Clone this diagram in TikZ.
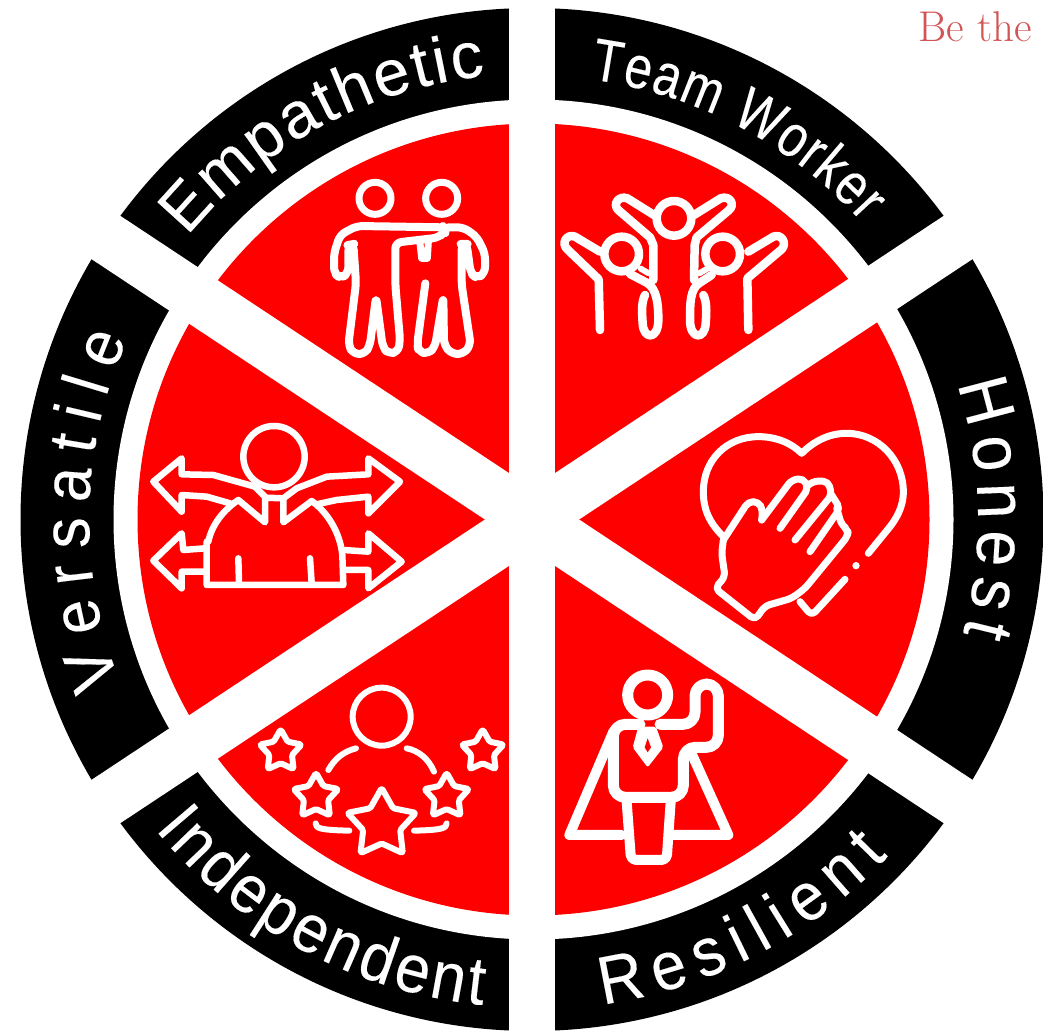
\documentclass[tikz,border=0pt]{standalone}
\usepackage{fontspec}
\setmainfont{Liberation Sans}
\newfontfamily\beserif{Latin Modern Roman}
\newfontfamily\ringfull[FakeBold=0.2]{Liberation Sans}
\newfontfamily\ringmid[FakeStretch=0.92,FakeBold=0.2]{Liberation Sans}
\newfontfamily\ringtight[FakeStretch=0.82,FakeBold=0.2]{Liberation Sans}
\usetikzlibrary{calc,decorations.text,shapes.geometric}
\definecolor{wedgered}{RGB}{255,0,0}
\definecolor{bered}{RGB}{210,85,85}
\def\femp{\ringfull\fontsize{65}{65}\selectfont\color{white}}
\def\fteam{\ringtight\fontsize{60}{60}\selectfont\color{white}}
\def\fhon{\ringmid\fontsize{70}{70}\selectfont\color{white}}
\def\fver{\ringmid\fontsize{67}{67}\selectfont\color{white}}
\def\fres{\ringmid\fontsize{68}{68}\selectfont\color{white}}
\def\find{\ringmid\fontsize{68}{68}\selectfont\color{white}}
\tikzset{
  ringtext/.style 2 args={decorate,decoration={text along path,
     text={|#2|#1},text align={fit to path}}},
  zoomed/.style 2 args={shift={(#1,1031-#2)},x=0.33333pt,y=-0.33333pt},
  icon/.style={draw=white,line cap=round,line join=round,fill=none,line width=#1},
  icon/.default=6.5pt,
  band/.style={draw=white,line width=#1},
  starnode/.style={star,star points=5,star point ratio=1.85,draw=white,line width=6pt,
     inner sep=0pt,rounded corners=1.5pt,line join=round,minimum size=#1}
}
\begin{document}
\begin{tikzpicture}[x=1pt,y=1pt]
\useasboundingbox (0,0) rectangle (1043,1031);
\clip (0,0) rectangle (1043,1031);
\fill[white] (0,0) rectangle (1043,1031);
\coordinate (c) at (532,511.5);
\coordinate (ci) at (533.5,511.5);
% rings
\fill[black] (c) circle[radius=511.5];
\fill[white] (ci) circle[radius=420];
\fill[wedgered] (ci) circle[radius=396];
% bands
\draw[band=46pt] (532,1100) -- (532,-60);
\draw[band=52pt] ($(c)+(33.5:700)$) -- ($(c)+(213.5:700)$);
\draw[band=52pt] ($(c)+(146.5:700)$) -- ($(c)+(326.5:700)$);
% ring labels
\path[ringtext={Empathetic}{\femp}] ($(c)+(140.6:446)$) arc[start angle=140.6,end angle=96,radius=446];
\path[ringtext={Team Worker}{\fteam}] ($(c)+(82.5:444)$) arc[start angle=82.5,end angle=42,radius=444];
\path[ringtext={Honest}{\fhon}] ($(c)+(17.7:446)$) arc[start angle=17.7,end angle=-14.8,radius=446];
\path[ringtext={Versatile}{\fver}] ($(c)+(201.5:443)$) arc[start angle=201.5,end angle=156,radius=443];
\path[ringtext={Resilient}{\fres}] ($(c)+(-81.7:490)$) arc[start angle=-81.7,end angle=-43.4,radius=490];
\path[ringtext={Independent}{\find}] ($(c)+(219.4:488)$) arc[start angle=219.4,end angle=264.2,radius=488];
% Be the
\node[anchor=base east,text=bered,inner sep=0pt,font=\beserif\fontsize{43}{43}\selectfont] (bethe) at (1032,989) {Be the};
% Empathetic icon
\begin{scope}[zoomed={320}{170}]
\draw[icon=7pt] (165,85) circle[radius=48];
\draw[icon=7pt] (365,85) circle[radius=48];
\draw[icon=8pt,rounded corners=6pt] (370,172) -- (110,168) -- (60,195) -- (42,250) -- (42,310) -- (62,325) -- (85,310) -- (85,225) -- (100,222) -- (108,340) -- (85,525) -- (100,552) -- (135,552) -- (150,525) -- (168,380) -- (188,530) -- (205,552) -- (235,545) -- (240,510) -- (226,345) -- (226,218) -- (355,203) -- (375,185) -- (370,172) -- (430,172) -- (470,200) -- (495,250) -- (495,310) -- (470,325) -- (452,310) -- (440,222) -- (425,222) -- (425,345) -- (452,525) -- (430,552) -- (395,552) -- (372,525) -- (370,380) -- (345,530) -- (325,552) -- (295,545) -- (292,520) -- (316,340);
\draw[icon=7pt] (300,220) -- (305,265) -- (322,265) -- (325,215);
\end{scope}
% Team icon
\begin{scope}[zoomed={550}{180}]
\draw[icon=8.5pt] (372,115) circle[radius=52];
\draw[icon=8.5pt] (215,222) circle[radius=52];
\draw[icon=8.5pt] (518,222) circle[radius=52];
\draw[icon=8.5pt] (312,105) -- (232,55) .. controls (205,45) and (185,75) .. (207,92) -- (300,172) -- (310,195) -- (310,300);
\draw[icon=8.5pt] (432,105) -- (512,55) .. controls (540,45) and (558,75) .. (535,92) -- (440,172) -- (434,195) -- (432,300);
\draw[icon=8.5pt] (150,215) -- (75,170) .. controls (50,160) and (32,190) .. (52,208) -- (146,298) -- (150,450);
\draw[icon=8.5pt] (595,215) -- (670,170) .. controls (695,160) and (712,190) .. (695,208) -- (592,295) -- (595,450);
\draw[icon=8.5pt] (240,282) -- (290,308) .. controls (320,325) and (325,370) .. (325,420) .. controls (325,480) and (280,480) .. (278,430) .. controls (275,390) and (275,365) .. (285,345);
\draw[icon=8.5pt] (485,285) -- (450,308) .. controls (420,325) and (420,370) .. (420,420) .. controls (420,480) and (465,480) .. (467,430) .. controls (470,390) and (470,365) .. (460,345);
\draw[icon=6pt] (272,266) -- (296,280);
\draw[icon=6pt] (472,266) -- (448,280);
\end{scope}
% Heart icon
\begin{scope}[zoomed={690}{420}]
\draw[icon=7pt] (100,350) .. controls (55,305) and (40,265) .. (40,215) .. controls (40,120) and (110,50) .. (205,50) .. controls (260,50) and (305,70) .. (335,100) .. controls (365,70) and (410,40) .. (470,40) .. controls (565,40) and (640,120) .. (640,215) .. controls (640,265) and (615,300) .. (600,320) -- (535,400);
\fill[white] (498,437) circle[radius=11];
\draw[icon=7pt,rounded corners=5pt] (100,360) -- (175,245) -- (205,245) -- (218,270) -- (215,300);
\draw[icon=7pt,rounded corners=5pt] (215,300) -- (305,180) -- (340,175) -- (355,205) -- (270,325);
\draw[icon=7pt,rounded corners=5pt] (355,195) -- (375,182) -- (415,185) -- (425,225) -- (315,360);
\draw[icon=7pt,rounded corners=5pt] (425,225) -- (450,265) -- (360,395);
\draw[icon=7pt,rounded corners=5pt] (440,265) -- (455,315) -- (475,330) -- (472,350) -- (345,505) -- (305,535) -- (225,558) -- (195,600) -- (75,505) -- (105,470) -- (95,400) -- (100,360);
\draw[icon=7pt,rounded corners=5pt] (330,545) -- (365,587) -- (465,478);
\end{scope}
% Resilient icon
\begin{scope}[zoomed={550}{660}]
\draw[icon=11pt] (293,105) circle[radius=60];
\draw[icon=10pt] (190,215) -- (58,525) -- (215,525);
\draw[icon=10pt] (420,270) -- (535,525) -- (370,525);
\draw[icon=11pt,rounded corners=12pt] (270,193) -- (190,193) -- (190,412) -- (400,412) -- (400,262) -- (505,262) -- (505,72) -- (435,72) -- (435,193) -- (330,193);
\fill[white,rounded corners=2pt] (265,200) -- (248,262) -- (293,322) -- (340,262) -- (318,200) -- cycle;
\fill[wedgered] (293,235) -- (284,262) -- (293,277) -- (303,262) -- cycle;
\draw[icon=10pt,rounded corners=5pt] (230,425) -- (243,600) -- (350,600) -- (362,425);
\end{scope}
% Independent icon
\begin{scope}[zoomed={250}{680}]
\draw[icon=6pt] (395,110) circle[radius=87];
\draw[icon=6pt] (318,205) .. controls (280,215) and (255,235) .. (235,270);
\draw[icon=6pt] (470,205) .. controls (505,212) and (535,235) .. (552,275);
\draw[icon=6pt] (197,430) .. controls (197,445) and (210,450) .. (298,452);
\draw[icon=6pt] (590,430) .. controls (590,445) and (575,450) .. (492,452);
\node[starnode=72pt] (s1) at (395,432) {};
\node[starnode=47pt] (s2) at (198,349) {};
\node[starnode=47pt] (s3) at (590,349) {};
\node[starnode=44pt] (s4) at (92,214) {};
\node[starnode=44pt] (s5) at (698,214) {};
\end{scope}
% Versatile icon
\begin{scope}[zoomed={140}{415}]
\draw[icon=6.5pt] (402,125) circle[radius=92];
\draw[icon=6.5pt] (375,245) -- (345,215) -- (220,180) -- (125,178) -- (125,130) -- (40,200) -- (125,290) -- (125,240) -- (200,245) -- (270,265);
\draw[icon=6.5pt] (430,250) -- (470,220) -- (560,185) -- (685,178) -- (685,130) -- (780,200) -- (685,295) -- (685,245) -- (590,255) -- (530,268);
\draw[icon=6.5pt] (205,380) .. controls (215,330) and (250,285) .. (295,255) -- (375,322) -- (375,248) -- (430,250) -- (430,322) -- (515,258) .. controls (560,290) and (600,350) .. (607,420) -- (610,510) -- (200,510) -- (200,380);
\draw[icon=6.5pt] (195,400) -- (130,405) -- (125,355) -- (40,437) -- (125,520) -- (125,470) -- (200,470);
\draw[icon=6.5pt] (610,405) -- (685,410) -- (685,355) -- (785,440) -- (685,520) -- (685,465) -- (610,465);
\draw[icon=6.5pt] (295,430) -- (297,505);
\draw[icon=6.5pt] (510,430) -- (515,505);
\end{scope}
\end{tikzpicture}
\end{document}
